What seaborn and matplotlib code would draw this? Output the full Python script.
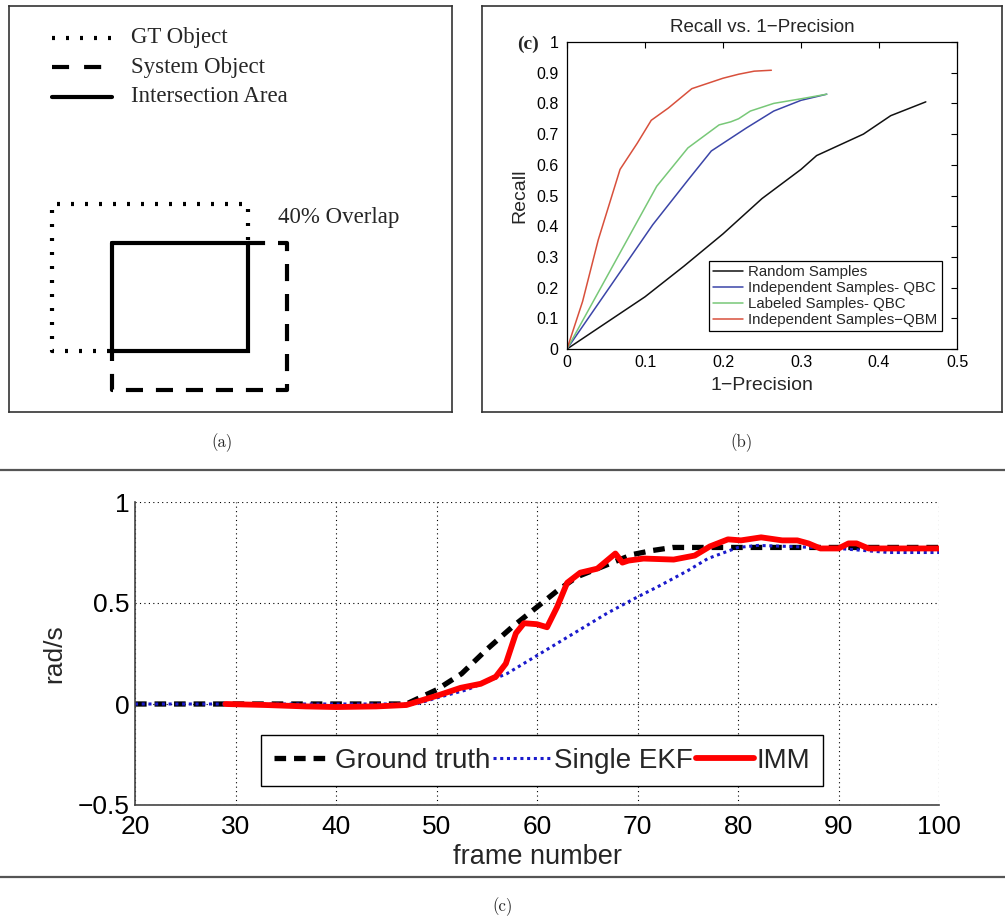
import matplotlib
matplotlib.use("Agg")
import matplotlib.pyplot as plt
from matplotlib.lines import Line2D
import pandas as pd
import seaborn as sns

OUTPUT_PATH = "out.png"
W, H = 1005, 919

# ---- panel (a): overlap diagram, in pixel units of its own frame ----
GT_PATH_X = [110, 52, 52, 248, 248]
GT_PATH_Y = [351, 351, 204, 204, 243]
SYS_PATH_X = [248, 287, 287, 112, 112]
SYS_PATH_Y = [243, 243, 390, 390, 351]
INTER_X = [112, 248, 248, 112, 112]
INTER_Y = [243, 243, 351, 351, 243]
KEY_LABELS = ["GT Object", "System Object", "Intersection Area"]
OVERLAP_LABEL = "40% Overlap"

# ---- panel (b): recall vs 1-precision ----
RANDOM_X = [0, 0.05, 0.1, 0.11, 0.15, 0.2, 0.25, 0.3, 0.32, 0.35, 0.38, 0.415, 0.44, 0.46]
RANDOM_Y = [0, 0.085, 0.17, 0.19, 0.27, 0.375, 0.49, 0.585, 0.63, 0.665, 0.70, 0.76, 0.785, 0.805]
QBC_IND_X = [0, 0.11, 0.155, 0.185, 0.2, 0.23, 0.265, 0.3, 0.333]
QBC_IND_Y = [0, 0.405, 0.55, 0.645, 0.67, 0.72, 0.775, 0.81, 0.83]
QBC_LAB_X = [0, 0.115, 0.155, 0.195, 0.21, 0.22, 0.235, 0.265, 0.3, 0.333]
QBC_LAB_Y = [0, 0.53, 0.655, 0.73, 0.74, 0.75, 0.775, 0.80, 0.815, 0.83]
QBM_X = [0, 0.02, 0.04, 0.068, 0.09, 0.108, 0.13, 0.16, 0.18, 0.2, 0.22, 0.24, 0.262]
QBM_Y = [0, 0.155, 0.355, 0.585, 0.67, 0.745, 0.785, 0.848, 0.865, 0.882, 0.895, 0.905, 0.908]
PR_LABELS = ["Random Samples", "Independent Samples- QBC",
             "Labeled Samples- QBC", "Independent Samples\u2212QBM"]
PR_COLORS = ["#111111", "#3b45a8", "#78c878", "#d8503c"]

# ---- panel (c): turn rate ----
FRAME_GT = [20, 47, 50, 52.5, 55, 57.5, 60, 62, 64, 67, 69.5, 71.5, 73.5, 80, 90, 100]
GT = [0, 0, 0.07, 0.15, 0.27, 0.38, 0.48, 0.56, 0.63, 0.69, 0.74, 0.76, 0.775, 0.775, 0.775, 0.775]
FRAME_EKF = [20, 48, 50, 53, 57, 60, 62, 65, 67, 70, 72, 75, 77, 80, 82, 85, 90, 95, 100]
EKF = [0, 0, 0.03, 0.07, 0.15, 0.24, 0.3, 0.39, 0.45, 0.53, 0.58, 0.66, 0.72, 0.775, 0.785,
       0.78, 0.77, 0.75, 0.75]
FRAME_IMM = [29, 33, 37, 40, 44, 47, 50.3, 52.4, 54.4, 55.9, 56.9, 57.9, 58.7, 60, 61, 62, 63,
             64.3, 66, 67.8, 68.5, 69.1, 70.6, 73.6, 75.7, 77.2, 79, 80.3, 82.3, 84.4, 85.9,
             87, 88.2, 90, 91, 91.8, 93, 96, 100]
IMM = [0, -0.005, -0.012, -0.015, -0.012, -0.005, 0.045, 0.08, 0.1, 0.135, 0.2, 0.35, 0.40,
       0.395, 0.38, 0.48, 0.6, 0.65, 0.67, 0.745, 0.70, 0.71, 0.72, 0.715, 0.735, 0.78, 0.815,
       0.81, 0.825, 0.81, 0.81, 0.795, 0.77, 0.77, 0.795, 0.795, 0.77, 0.77, 0.77]
TRACK_LABELS = ["Ground truth", "Single EKF", "IMM"]

SERIF = ["Liberation Serif", "DejaVu Serif"]
CAPTION = ["cmr10", "DejaVu Serif"]


def px_axes(fig, left, top, right, bottom):
    return fig.add_axes([left / W, 1 - bottom / H, (right - left) / W, (bottom - top) / H])


def panel_a(fig):
    ax = px_axes(fig, 9, 6, 452, 412)
    ax.set_xlim(9, 452)
    ax.set_ylim(412, 6)
    ax.set_xticks([])
    ax.set_yticks([])
    for s in ax.spines.values():
        s.set_color("#333333")
        s.set_linewidth(1.2)

    dotted = (0, (0.72, 2.64))
    dashed = (0, (4.1, 3.1))
    ax.plot(GT_PATH_X, GT_PATH_Y, color="black", lw=3, linestyle=dotted)
    ax.plot(SYS_PATH_X, SYS_PATH_Y, color="black", lw=3, linestyle=dashed)
    ax.plot(INTER_X, INTER_Y, color="black", lw=3, solid_joinstyle="miter")

    # key
    ax.plot([52, 112], [38, 38], color="black", lw=3, linestyle=dotted)
    ax.plot([52, 102], [67, 67], color="black", lw=3, linestyle=(0, (4.1, 3.6)))
    ax.plot([52, 112], [97, 97], color="black", lw=3)
    for y, label in zip([38, 67, 97], KEY_LABELS):
        ax.text(131, y, label, family=SERIF, fontsize=16.5, va="center", ha="left")
    ax.text(278, 217, OVERLAP_LABEL, family=SERIF, fontsize=16.5, va="center", ha="left")


def panel_b(fig):
    frame = px_axes(fig, 482, 6, 1002, 412)
    frame.set_xticks([])
    frame.set_yticks([])
    frame.patch.set_alpha(0)
    for s in frame.spines.values():
        s.set_color("#333333")
        s.set_linewidth(1.2)

    ax = px_axes(fig, 567, 42, 957, 349)
    series = [(RANDOM_X, RANDOM_Y), (QBC_IND_X, QBC_IND_Y), (QBC_LAB_X, QBC_LAB_Y), (QBM_X, QBM_Y)]
    for (xs, ys), label, color in zip(series, PR_LABELS, PR_COLORS):
        df = pd.DataFrame({"x": xs, "y": ys})
        sns.lineplot(data=df, x="x", y="y", ax=ax, color=color, lw=1.1, label=label)
    ax.set_xlim(0, 0.5)
    ax.set_ylim(0, 1)
    ax.set_xticks([0, 0.1, 0.2, 0.3, 0.4, 0.5])
    ax.set_xticklabels(["0", "0.1", "0.2", "0.3", "0.4", "0.5"])
    ax.set_yticks([i / 10 for i in range(11)])
    ax.set_yticklabels(["0"] + ["0.%d" % i for i in range(1, 10)] + ["1"])
    ax.tick_params(direction="in", length=4, width=0.8, labelsize=11.5, pad=4,
                   top=True, right=True, colors="black")
    ax.tick_params(axis="y", pad=6)
    for s in ax.spines.values():
        s.set_color("black")
        s.set_linewidth(0.9)
    ax.set_xlabel("1\u2212Precision", fontsize=14, labelpad=5)
    ax.set_ylabel("Recall", fontsize=14, labelpad=6)
    ax.set_title("Recall vs. 1\u2212Precision", fontsize=13.5, pad=7)
    ax.grid(False)
    leg = ax.legend(loc="upper left", bbox_to_anchor=(0.364, 0.287), fontsize=10.8,
                    handlelength=2.0, handletextpad=0.3, labelspacing=0.12,
                    borderpad=0.3, borderaxespad=0, fancybox=False, framealpha=1)
    leg.get_frame().set_edgecolor("black")
    leg.get_frame().set_linewidth(0.9)
    fig.text(528 / W, 1 - 44 / H, "(c)", family=SERIF, fontweight="bold",
             fontsize=14, ha="center", va="center")


def panel_c(fig):
    ax = px_axes(fig, 135, 502, 939, 805)
    gt_style = (0, (2.2, 1.5))
    ekf_style = (0, (1, 1.2))
    sns.lineplot(x=FRAME_GT, y=GT, ax=ax, color="black", lw=3.8, linestyle=gt_style)
    sns.lineplot(x=FRAME_EKF, y=EKF, ax=ax, color="#1a1acc", lw=2.2, linestyle=ekf_style)
    sns.lineplot(x=FRAME_IMM, y=IMM, ax=ax, color="#ff0000", lw=4.2)
    ax.set_xlim(20, 100)
    ax.set_ylim(-0.5, 1)
    ax.set_xticks(range(20, 101, 10))
    ax.set_yticks([-0.5, 0, 0.5, 1])
    ax.set_yticklabels(["\u22120.5", "0", "0.5", "1"])
    ax.grid(True, color="black", linestyle=(0, (1, 3)), lw=0.8)
    ax.set_axisbelow(True)
    for side in ["top", "right"]:
        ax.spines[side].set_visible(False)
    for side in ["left", "bottom"]:
        ax.spines[side].set_color("#444444")
        ax.spines[side].set_linewidth(1.2)
    ax.tick_params(direction="in", length=4, width=0.8, labelsize=19, pad=4, colors="black")
    ax.tick_params(axis="x", pad=7)
    ax.set_xlabel("frame number", fontsize=19.5, labelpad=4)
    ax.set_ylabel("rad/s", fontsize=19, labelpad=8)

    handles = [
        Line2D([], [], color="black", lw=3.8, linestyle=gt_style),
        Line2D([], [], color="#1a1acc", lw=2.2, linestyle=ekf_style),
        Line2D([], [], color="#ff0000", lw=4.2),
    ]
    leg = ax.legend(handles, TRACK_LABELS, loc="upper left", bbox_to_anchor=(0.157, 0.231),
                    ncol=3, fontsize=20, handlelength=2.1, handletextpad=0.1,
                    columnspacing=0.1, borderpad=0.45, borderaxespad=0,
                    fancybox=False, framealpha=1)
    leg.get_frame().set_edgecolor("black")
    leg.get_frame().set_linewidth(1.0)


def main():
    sns.set_style("white")
    plt.rcParams["font.family"] = ["Liberation Sans", "DejaVu Sans"]
    plt.rcParams["axes.unicode_minus"] = True

    fig = plt.figure(figsize=(W / 100, H / 100), dpi=100)
    panel_a(fig)
    panel_b(fig)
    panel_c(fig)

    for y in [470, 877]:
        fig.add_artist(Line2D([0, 1], [1 - y / H, 1 - y / H], color="#555555", lw=1.6))
    for x, y, label in [(222, 443, "(a)"), (741, 443, "(b)"), (503, 907, "(c)")]:
        fig.text(x / W, 1 - y / H, label, family=CAPTION, fontsize=12,
                 ha="center", va="center")

    fig.savefig(OUTPUT_PATH, dpi=100)
    plt.close(fig)


if __name__ == "__main__":
    main()
